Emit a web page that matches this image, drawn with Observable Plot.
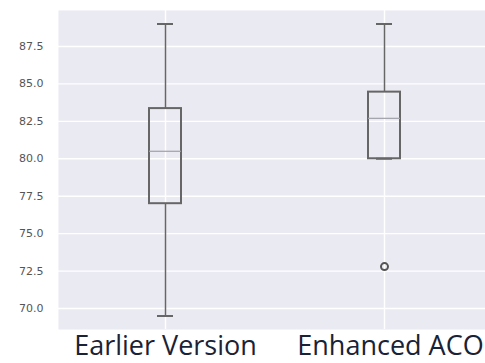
<!DOCTYPE html>
<html>
<head>
<meta charset="utf-8">
<script src="https://cdn.jsdelivr.net/npm/d3@7"></script>
<script src="https://cdn.jsdelivr.net/npm/@observablehq/plot@0.6"></script>
<style>
  html, body { margin: 0; padding: 0; background: #ffffff; }
  #chart svg { display: block; }
</style>
</head>
<body>
<div id="chart"></div>
<script>
const categories = ["Earlier Version", "Enhanced ACO"];
const whiskerLow = [69.5, 80.0];
const q1 = [77.0, 80.0];
const median = [80.5, 82.7];
const q3 = [83.35, 84.45];
const whiskerHigh = [89.0, 89.0];
const outlierCats = ["Enhanced ACO"];
const outlierValues = [72.8];
const yTicks = [70.0, 72.5, 75.0, 77.5, 80.0, 82.5, 85.0, 87.5];

const table = categories.map((cat, i) => ({
  cat, lo: whiskerLow[i], q1: q1[i], med: median[i], q3: q3[i], hi: whiskerHigh[i]
}));
const outliers = outlierCats.map((cat, i) => ({cat, value: outlierValues[i]}));

const boxStroke = "#666666";
const labelStyle = {tickSize: 0, tickPadding: 6, fontSize: 27, fill: "#1a2235", fontFamily: "Open Sans", anchor: "bottom", label: null};

const chart = Plot.plot({
  width: 485,
  height: 363,
  marginLeft: 58,
  marginRight: 0,
  marginTop: 10,
  marginBottom: 34,
  style: {background: "#ffffff", overflow: "visible"},
  x: {type: "band", domain: categories, range: [149, 400], paddingInner: 0.854, paddingOuter: 0, label: null},
  y: {domain: [68.6, 89.9], label: null},
  marks: [
    Plot.frame({fill: "#eaeaf2", stroke: null}),
    Plot.gridY(yTicks, {stroke: "#ffffff", strokeOpacity: 1, strokeWidth: 1.4}),
    Plot.gridX(categories, {stroke: "#ffffff", strokeOpacity: 1, strokeWidth: 1.4}),
    Plot.ruleX(table, {x: "cat", y1: "lo", y2: "q1", stroke: boxStroke, strokeWidth: 1.5}),
    Plot.ruleX(table, {x: "cat", y1: "q3", y2: "hi", stroke: boxStroke, strokeWidth: 1.5}),
    Plot.barY(table, {x: "cat", y1: "q1", y2: "q3", fill: "none", stroke: boxStroke, strokeWidth: 2}),
    Plot.tickY(table, {x: "cat", y: "med", stroke: "#a0a0a8", strokeWidth: 1.2}),
    Plot.tickY(table, {x: "cat", y: "lo", insetLeft: 8, insetRight: 8, stroke: boxStroke, strokeWidth: 2}),
    Plot.tickY(table, {x: "cat", y: "hi", insetLeft: 8, insetRight: 8, stroke: boxStroke, strokeWidth: 2}),
    Plot.dot(outliers, {x: "cat", y: "value", r: 3.5, fill: "none", stroke: "#555555", strokeWidth: 2}),
    Plot.axisY(yTicks, {tickSize: 0, tickPadding: 15, tickFormat: d => d.toFixed(1), fontSize: 11, fill: "#555555", fontFamily: "DejaVu Sans", label: null}),
    Plot.axisX([categories[0]], labelStyle),
    Plot.axisX([categories[1]], {...labelStyle, dx: 6})
  ]
});
document.getElementById("chart").appendChild(chart);
</script>
</body>
</html>
